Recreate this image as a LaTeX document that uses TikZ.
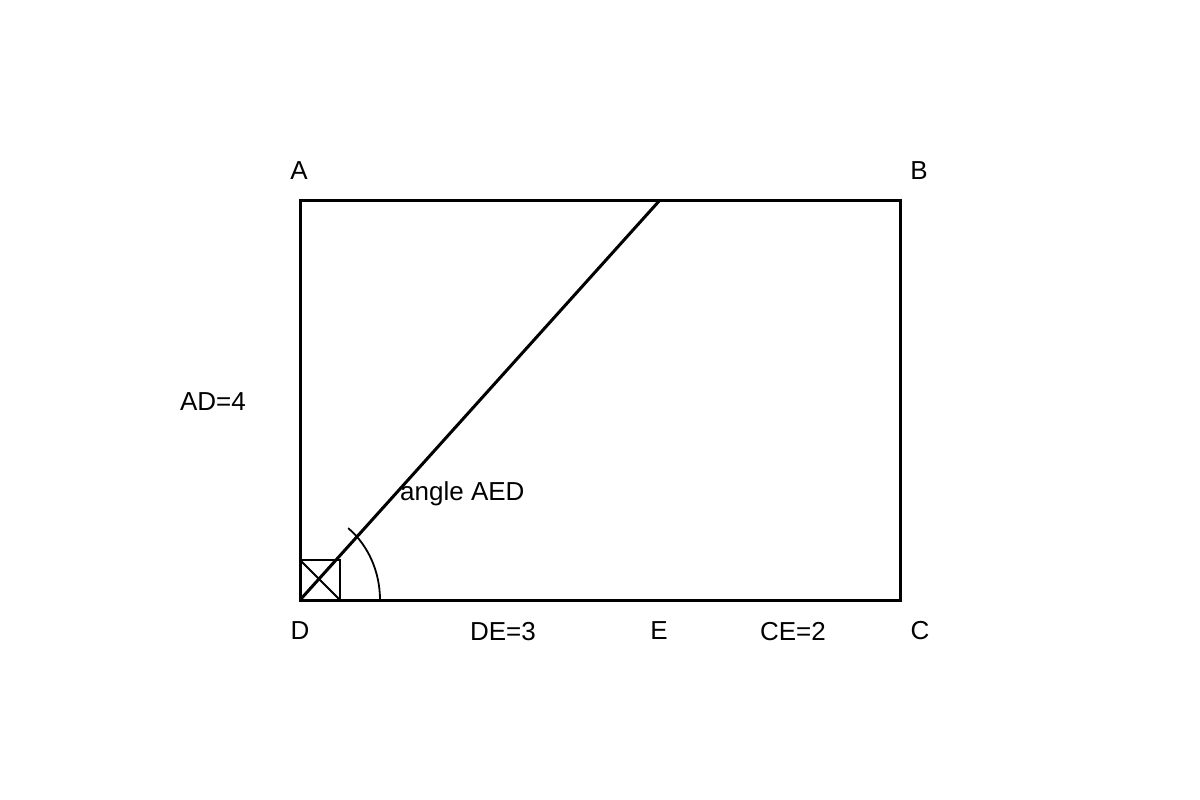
\documentclass[tikz,border=0pt]{standalone}
\usepackage{fontspec}
\setmainfont{Liberation Sans}
\begin{document}
\begin{tikzpicture}[x=1pt,y=-1pt,
  lbl/.style={inner sep=0pt,font=\fontsize{26}{30}\selectfont},
  thick edge/.style={line width=3pt},
  thin edge/.style={line width=1.8pt}]
\useasboundingbox (0,0) rectangle (1200,800);
\coordinate (A) at (300,200);
\coordinate (B) at (900,200);
\coordinate (C) at (900,600);
\coordinate (D) at (300,600);
\coordinate (F) at (660,200);
\coordinate (S1) at (340,600);
\coordinate (S2) at (340,560);
\coordinate (S3) at (300,560);
\coordinate (R) at (380,600);
\draw[thick edge] (A) -- (B) -- (C) -- (D) -- cycle;
\draw[thick edge] (D) -- (F);
\draw[thin edge] (D) -- (S1) -- (S2) -- (S3) -- cycle;
\draw[thin edge] (S1) -- (S3);
\draw[thin edge] (R) arc[start angle=0,end angle=-53,x radius=80,y radius=90];
\node[lbl] (lA) at (299,171) {A};
\node[lbl] (lB) at (919,171) {B};
\node[lbl] (lD) at (300,631) {D};
\node[lbl] (lE) at (659,631) {E};
\node[lbl] (lC) at (920,631) {C};
\node[lbl] (lDE) at (503,632) {DE=3};
\node[lbl] (lCE) at (793,632) {CE=2};
\node[lbl] (lAD) at (213,402) {AD=4};
\node[lbl,anchor=west] (lang) at (400,494) {angle AED};
\end{tikzpicture}
\end{document}
